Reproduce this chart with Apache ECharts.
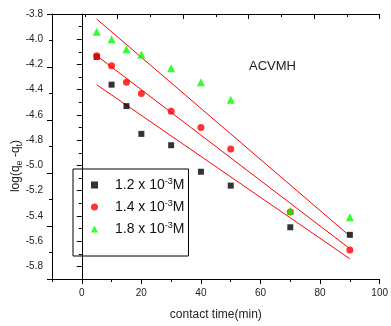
<!DOCTYPE html>
<html>
<head>
<meta charset="utf-8">
<script src="https://cdn.jsdelivr.net/npm/echarts@6/dist/echarts.min.js"></script>
<style>
  html, body { margin: 0; padding: 0; background: #fff; }
  #chart { width: 391px; height: 326px; }
</style>
</head>
<body>
<div id="chart"></div>
<script>
// contact time (min)
const times = [5, 10, 15, 20, 30, 40, 50, 70, 90];
// log(qe - qt) for each concentration
const q12 = [-4.14, -4.36, -4.53, -4.75, -4.84, -5.05, -5.16, -5.49, -5.55];
const q14 = [-4.13, -4.21, -4.34, -4.43, -4.57, -4.70, -4.87, -5.37, -5.67];
const q18 = [-3.94, -4.00, -4.08, -4.12, -4.23, -4.34, -4.48, -5.36, -5.41];
// fitted lines, end points
const fitX = [5, 90];
const fit12 = [-4.36, -5.74];
const fit14 = [-4.13, -5.66];
const fit18 = [-3.84, -5.56];

const seriesNames = ["1.2", "1.4", "1.8"];
const xMajor = [0, 20, 40, 60, 80, 100];
const xMinor = [-10, 10, 30, 50, 70, 90];
const yMajor = [-5.8, -5.6, -5.4, -5.2, -5.0, -4.8, -4.6, -4.4, -4.2, -4.0, -3.8];
const yMinor = [-5.9, -5.7, -5.5, -5.3, -5.1, -4.9, -4.7, -4.5, -4.3, -4.1, -3.9];

const FONT = "Liberation Sans";
const zip = (xs, ys) => xs.map((x, i) => [x, ys[i]]);

const myChart = echarts.init(document.getElementById("chart"));

const axisLine = { show: true, lineStyle: { color: "#000", width: 1 } };

const fitLine = (data) => ({
  type: "line",
  data: zip(fitX, data),
  showSymbol: false,
  symbol: "none",
  lineStyle: { color: "#ff0000", width: 1 },
  silent: true,
  z: 1
});

myChart.setOption({
  animation: false,
  textStyle: { fontFamily: FONT },
  title: {
    text: "ACVMH",
    left: 249,
    top: 60,
    padding: 0,
    textStyle: { fontSize: 13, fontWeight: "normal", color: "#222", fontFamily: FONT }
  },
  grid: { left: 52, right: 1, top: 14, bottom: 37, containLabel: false },
  legend: {
    orient: "vertical",
    left: 73,
    top: 169,
    padding: [8, 4, 19, 18],
    itemGap: 6,
    itemWidth: 7,
    itemHeight: 7,
    borderColor: "#000",
    borderWidth: 1,
    borderRadius: 0,
    data: [
      { name: seriesNames[0], icon: "rect" },
      { name: seriesNames[1], icon: "circle" },
      { name: seriesNames[2], icon: "triangle" }
    ],
    formatter: (name) => "{gap|}" + name + " x 10{sup|-3}M",
    textStyle: {
      fontSize: 14,
      color: "#111",
      lineHeight: 16,
      fontFamily: FONT,
      rich: {
        gap: { width: 12 },
        sup: { fontSize: 9, lineHeight: 8, verticalAlign: "top", color: "#111" }
      }
    }
  },
  xAxis: [
    {
      type: "value",
      position: "bottom",
      min: -10,
      max: 100,
      axisLine: axisLine,
      axisTick: { show: true, inside: false, length: 5, customValues: xMajor, lineStyle: { color: "#000" } },
      axisLabel: { customValues: xMajor, fontSize: 10, color: "#222", margin: 9 },
      splitLine: { show: false },
      name: "contact time(min)",
      nameLocation: "middle",
      nameGap: 30,
      nameTextStyle: { fontSize: 12, color: "#222" }
    },
    {
      type: "value",
      position: "bottom",
      min: -10,
      max: 100,
      axisLine: { show: false },
      axisTick: { show: true, inside: false, length: 3, customValues: xMinor, lineStyle: { color: "#000" } },
      axisLabel: { show: false },
      splitLine: { show: false }
    },
    {
      type: "value",
      position: "top",
      min: 0,
      max: 10,
      interval: 2,
      axisLine: axisLine,
      axisTick: { show: true, inside: true, length: 5, lineStyle: { color: "#000" } },
      minorTick: { show: true, splitNumber: 2, length: 3, lineStyle: { color: "#000" } },
      axisLabel: { show: false },
      splitLine: { show: false }
    }
  ],
  yAxis: [
    {
      type: "value",
      position: "left",
      min: -5.9,
      max: -3.8,
      axisLine: axisLine,
      axisTick: { show: true, inside: false, length: 5, customValues: yMajor, lineStyle: { color: "#000" } },
      axisLabel: {
        customValues: yMajor,
        fontSize: 10,
        color: "#222",
        margin: 9,
        formatter: (v) => v.toFixed(1)
      },
      splitLine: { show: false }
    },
    {
      type: "value",
      position: "left",
      min: -5.9,
      max: -3.8,
      axisLine: { show: false },
      axisTick: { show: true, inside: false, length: 3, customValues: yMinor, lineStyle: { color: "#000" } },
      axisLabel: { show: false },
      splitLine: { show: false }
    },
    {
      type: "value",
      position: "right",
      min: 0,
      max: 10,
      interval: 2,
      axisLine: axisLine,
      axisTick: { show: true, inside: true, length: 5, lineStyle: { color: "#000" } },
      minorTick: { show: true, splitNumber: 2, length: 3, lineStyle: { color: "#000" } },
      axisLabel: { show: false },
      splitLine: { show: false }
    }
  ],
  graphic: [
    {
      type: "text",
      x: 16,
      y: 166,
      rotation: Math.PI / 2,
      style: {
        text: "log(q{sub|e} -q{sub|t})",
        fontSize: 12,
        fontFamily: FONT,
        fill: "#222",
        align: "center",
        verticalAlign: "middle",
        lineHeight: 16,
        rich: {
          sub: { fontSize: 9, lineHeight: 8, verticalAlign: "bottom", fill: "#222" }
        }
      }
    }
  ],
  series: [
    fitLine(fit12),
    fitLine(fit14),
    fitLine(fit18),
    {
      name: seriesNames[0],
      type: "scatter",
      symbol: "rect",
      symbolSize: 6,
      itemStyle: { color: "#000" },
      data: zip(times, q12),
      z: 2
    },
    {
      name: seriesNames[1],
      type: "scatter",
      symbol: "circle",
      symbolSize: 7,
      itemStyle: { color: "#ff0000" },
      data: zip(times, q14),
      z: 3
    },
    {
      name: seriesNames[2],
      type: "scatter",
      symbol: "triangle",
      symbolSize: 8,
      itemStyle: { color: "#00ff00" },
      data: zip(times, q18),
      z: 4
    }
  ]
});
</script>
</body>
</html>
